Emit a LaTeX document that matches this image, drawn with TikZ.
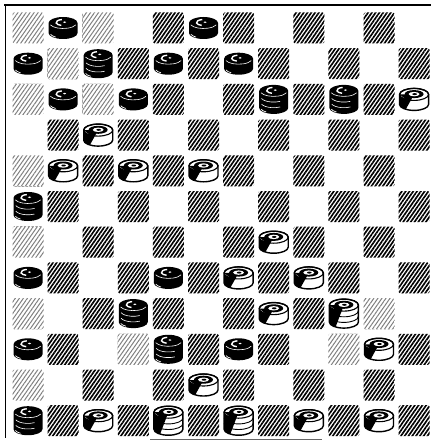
\documentclass[tikz,border=0pt]{standalone}
\usetikzlibrary{patterns.meta}
\tikzset{
  x=1pt,y=1pt,
  sq/.style={pattern={Lines[angle=55,distance=3.1pt,line width=1.65pt]},pattern color=black,rounded corners=1.5pt},
  sqfaint/.style={pattern={Lines[angle=55,distance=3.3pt,line width=1.0pt]},pattern color=black!50,rounded corners=1.5pt},
  bman/.pic={
    \fill[black] (-14.5,5) -- (-14.5,-5) arc[start angle=180,end angle=360,x radius=14.5,y radius=6] -- (14.5,5) arc[start angle=0,end angle=180,x radius=14.5,y radius=6] -- cycle;
    \draw[white,line width=0.6pt] (0,5) ++(200:13.5 and 5.5) arc[start angle=200,end angle=340,x radius=13.5,y radius=5.5];
    \draw[white,line width=1.4pt] (0,5.5) ++(100:7 and 3) arc[start angle=100,end angle=255,x radius=7,y radius=3];
    \fill[white] (1.5,5.8) ellipse[x radius=1.6,y radius=0.8];
    \draw[white,line width=0.7pt] (0,-5) ++(195:13 and 5) arc[start angle=195,end angle=235,x radius=13,y radius=5];
  },
  wman/.pic={
    \filldraw[fill=white,draw=black,line width=1.4pt] (-14.5,5) -- (-14.5,-5) arc[start angle=180,end angle=360,x radius=14.5,y radius=6] -- (14.5,5) arc[start angle=0,end angle=180,x radius=14.5,y radius=6] -- cycle;
    \fill[black] (-14.5,5) -- (-14.5,-5) arc[start angle=180,end angle=235,x radius=14.5,y radius=6] -- (0,5) ++(235:14.5 and 6) arc[start angle=235,end angle=180,x radius=14.5,y radius=6] -- cycle;
    \draw[line width=1.1pt] (0,5) ellipse[x radius=14.5,y radius=6];
    \fill (0,5.3) ellipse[x radius=9.5,y radius=4];
    \fill[white] (0,5.3) ellipse[x radius=5.5,y radius=2.2];
    \fill (0.5,5.3) ellipse[x radius=2.3,y radius=1];
  },
  bking/.pic={
    \fill[black] (-14.5,8.5) -- (-14.5,-8.5) arc[start angle=180,end angle=360,x radius=14.5,y radius=6] -- (14.5,8.5) arc[start angle=0,end angle=180,x radius=14.5,y radius=6] -- cycle;
    \draw[white,line width=0.6pt] (0,8.5) ++(200:13.5 and 5.5) arc[start angle=200,end angle=340,x radius=13.5,y radius=5.5];
    \draw[white,line width=1.4pt] (0,9) ++(100:7 and 3) arc[start angle=100,end angle=255,x radius=7,y radius=3];
    \fill[white] (1.5,9.3) ellipse[x radius=1.6,y radius=0.8];
    \foreach \h in {2.8,-2.8}
      \draw[white,line width=0.6pt] (0,\h) ++(200:13 and 5.5) arc[start angle=200,end angle=300,x radius=13,y radius=5.5];
    \draw[white,line width=0.7pt] (0,-8.5) ++(195:13 and 5) arc[start angle=195,end angle=235,x radius=13,y radius=5];
  },
  wking/.pic={
    \filldraw[fill=white,draw=black,line width=1.4pt] (-14.5,8.5) -- (-14.5,-8.5) arc[start angle=180,end angle=360,x radius=14.5,y radius=6] -- (14.5,8.5) arc[start angle=0,end angle=180,x radius=14.5,y radius=6] -- cycle;
    \fill[black] (-14.5,8.5) -- (-14.5,-8.5) arc[start angle=180,end angle=235,x radius=14.5,y radius=6] -- (0,8.5) ++(235:14.5 and 6) arc[start angle=235,end angle=180,x radius=14.5,y radius=6] -- cycle;
    \foreach \h in {2.8,-2.8}
      \draw[line width=0.9pt] (0,\h) ++(180:14.5 and 6) arc[start angle=180,end angle=360,x radius=14.5,y radius=6];
    \draw[line width=1.1pt] (0,8.5) ellipse[x radius=14.5,y radius=6];
    \fill (0,8.8) ellipse[x radius=9.5,y radius=4];
    \fill[white] (0,8.8) ellipse[x radius=5.5,y radius=2.2];
    \fill (0.5,8.8) ellipse[x radius=2.3,y radius=1];
  }
}
\begin{document}
\begin{tikzpicture}
\useasboundingbox (0,0) rectangle (433,-441);
\fill[white] (0,0) rectangle (433,-441);
% hatched squares
\foreach \r in {1,...,12}{
  \foreach \c in {1,...,12}{
    \pgfmathtruncatemacro\p{mod(\r+\c,2)}
    \ifnum\p=0
      \fill[sq] ({28+35.1*(\c-1)-15.5},{-(28+35.7*(\r-1))-15.5}) rectangle ++(31,31);
    \fi
  }
}
% faint squares
\foreach \r/\c in {1/1,2/2,3/1,3/3,5/1,7/1,9/1,10/4,10/10,11/1,9/11,1/3}{
  \fill[white] ({28+35.1*(\c-1)-15.6},{-(28+35.7*(\r-1))-15.6}) rectangle ++(31.2,31.2);
  \fill[sqfaint] ({28+35.1*(\c-1)-15.5},{-(28+35.7*(\r-1))-15.5}) rectangle ++(31,31);
}
% border
\draw[line width=1.6pt] (4,-5) -- (431,-5);
\draw[line width=1pt] (5,-5) -- (5,-438);
\draw[black!60,line width=0.8pt] (150,-439) -- (322,-439);
% pieces
\foreach \r/\c in {1/2,1/6,2/1,2/5,2/7,3/2,3/4,8/1,8/5,10/1,10/7}
  \pic at ({28+35.1*(\c-1)},{-(28+35.7*(\r-1))}) {bman};
\foreach \r/\c in {2/3,3/8,3/10,6/1,9/4,10/5,12/1}
  \pic at ({28+35.1*(\c-1)},{-(28+35.7*(\r-1))}) {bking};
\foreach \r/\c in {3/12,4/3,5/2,5/4,5/6,7/8,8/7,8/9,9/8,10/11,11/6,12/3,12/9,12/11}
  \pic at ({28+35.1*(\c-1)},{-(28+35.7*(\r-1))}) {wman};
\foreach \r/\c in {9/10,12/5,12/7}
  \pic at ({28+35.1*(\c-1)},{-(28+35.7*(\r-1))}) {wking};
\end{tikzpicture}
\end{document}
